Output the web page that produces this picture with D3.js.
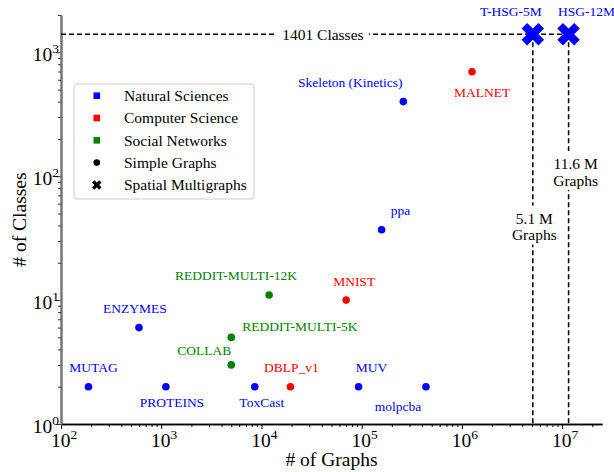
<!DOCTYPE html>
<html>
<head>
<meta charset="utf-8">
<script src="https://cdn.jsdelivr.net/npm/d3@7"></script>
<style>
  body { margin: 0; background: #fff; }
  text { font-family: "Liberation Serif", "Times New Roman", serif; }
</style>
</head>
<body>
<svg id="grafico"></svg>
<script>
// dados
const datasets = ["MUTAG", "PROTEINS", "ENZYMES", "ToxCast", "DBLP_v1", "COLLAB",
  "REDDIT-MULTI-5K", "REDDIT-MULTI-12K", "MNIST", "MUV", "molpcba", "ppa",
  "Skeleton (Kinetics)", "MALNET", "T-HSG-5M", "HSG-12M"];
const numGraphs = [188, 1113, 600, 8576, 19456, 5000, 4999, 11929, 70000, 93087,
  437929, 158100, 260232, 1262024, 5100000, 11600000];
const numClasses = [2, 2, 6, 2, 2, 3, 5, 11, 10, 2, 2, 37, 400, 696, 1401, 1401];
const fieldOf = ["Natural Sciences", "Natural Sciences", "Natural Sciences", "Natural Sciences",
  "Computer Science", "Social Networks", "Social Networks", "Social Networks",
  "Computer Science", "Natural Sciences", "Natural Sciences", "Natural Sciences",
  "Natural Sciences", "Computer Science", "Natural Sciences", "Natural Sciences"];
const typeOf = ["Simple Graphs", "Simple Graphs", "Simple Graphs", "Simple Graphs",
  "Simple Graphs", "Simple Graphs", "Simple Graphs", "Simple Graphs", "Simple Graphs",
  "Simple Graphs", "Simple Graphs", "Simple Graphs", "Simple Graphs", "Simple Graphs",
  "Spatial Multigraphs", "Spatial Multigraphs"];

const fields = ["Natural Sciences", "Computer Science", "Social Networks"];
const graphTypes = ["Simple Graphs", "Spatial Multigraphs"];
const xTicks = [1e2, 1e3, 1e4, 1e5, 1e6, 1e7];
const yTicks = [1e0, 1e1, 1e2, 1e3];
const maxClasses = 1401;
const bigSets = [5100000, 11600000];
const bigLabels = [["5.1 M", "Graphs"], ["11.6 M", "Graphs"]];

// deslocamento dos rotulos (px) em relacao ao ponto
const rotDx = [5, 6, -4, 7, 1, -27, 11, -33, 8, 13, -28, 19, -53, 10, -22, 18];
const rotDy = [-15, 20, -15, 20, -15, -10, -6, -15, -14, -15, 24, -15, -15, 25, -18, -18];
const rotAnchor = ["middle", "middle", "middle", "middle", "middle", "middle", "start",
  "middle", "middle", "middle", "middle", "middle", "middle", "middle", "middle", "middle"];

const cores = d3.scaleOrdinal().domain(fields).range(["#0000ff", "#ff0000", "#008000"]);

const largura = 614, altura = 472;
const esq = 61, dir = 602, topo = 15, base = 424;

let svg = d3.select('#grafico')
  .attr('width', largura + 'px')
  .attr('height', altura + 'px');

let fnX = d3.scaleLog().domain([100, 2.5e7]).range([esq, dir]);
let fnY = d3.scaleLog().domain([1, 2000]).range([base, topo]);

function minors(dom) {
  let out = [];
  for (let e = Math.floor(Math.log10(dom[0])); e <= Math.ceil(Math.log10(dom[1])); e++) {
    for (let k = 2; k <= 9; k++) {
      let v = k * Math.pow(10, e);
      if (v >= dom[0] && v <= dom[1]) out.push(v);
    }
  }
  return out;
}

// eixo x
let gx = svg.append('g').attr('transform', 'translate(0,' + base + ')');
gx.append('g').call(d3.axisBottom(fnX).tickValues(xTicks).tickFormat('').tickSize(5).tickSizeOuter(0));
gx.append('g').call(d3.axisBottom(fnX).tickValues(minors(fnX.domain())).tickFormat('').tickSize(3).tickSizeOuter(0));
gx.selectAll('.domain').attr('stroke', '#000').attr('stroke-width', 1.3);
gx.selectAll('.tick line').attr('stroke', '#000').attr('stroke-width', 1);
gx.selectAll('.rotx').data(xTicks).enter().append('text')
  .attr('x', d => fnX(d) + 3)
  .attr('y', 23)
  .attr('text-anchor', 'middle')
  .attr('font-size', '19.5px')
  .each(function(d) {
    let t = d3.select(this);
    t.append('tspan').text('10');
    t.append('tspan').attr('dy', -8).attr('font-size', '13.5px').text(Math.round(Math.log10(d)));
  });

// eixo y
let gy = svg.append('g').attr('transform', 'translate(' + esq + ',0)');
gy.append('g').call(d3.axisLeft(fnY).tickValues(yTicks).tickFormat('').tickSize(5).tickSizeOuter(0));
gy.append('g').call(d3.axisLeft(fnY).tickValues(minors(fnY.domain())).tickFormat('').tickSize(3).tickSizeOuter(0));
gy.selectAll('.domain').attr('stroke', '#777').attr('stroke-width', 2);
gy.selectAll('.tick line').attr('stroke', '#333').attr('stroke-width', 1);
gy.selectAll('.roty').data(yTicks).enter().append('text')
  .attr('x', -2)
  .attr('y', d => fnY(d) + 9)
  .attr('text-anchor', 'end')
  .attr('font-size', '19.5px')
  .each(function(d) {
    let t = d3.select(this);
    t.append('tspan').text('10');
    t.append('tspan').attr('dy', -8).attr('font-size', '13.5px').text(Math.round(Math.log10(d)));
  });

// titulos dos eixos
svg.append('text')
  .attr('x', (esq + dir) / 2).attr('y', 466)
  .attr('text-anchor', 'middle').attr('font-size', '19.5px')
  .text('# of Graphs');
svg.append('text')
  .attr('transform', 'translate(26,' + ((topo + base) / 2) + ') rotate(-90)')
  .attr('text-anchor', 'middle').attr('font-size', '19.5px')
  .text('# of Classes');

// linhas tracejadas
let linhas = svg.append('g')
  .attr('stroke', '#000').attr('stroke-width', 1.5)
  .attr('stroke-dasharray', '5,3').attr('fill', 'none');
linhas.append('line')
  .attr('x1', fnX(fnX.domain()[0])).attr('x2', fnX(d3.max(bigSets)))
  .attr('y1', fnY(maxClasses)).attr('y2', fnY(maxClasses));
linhas.selectAll('.vert').data(bigSets).enter().append('line')
  .attr('x1', d => fnX(d)).attr('x2', d => fnX(d))
  .attr('y1', fnY(maxClasses)).attr('y2', fnY(1));

// texto "1401 Classes" com fundo branco
let tc = svg.append('g').attr('transform', 'translate(' + fnX(4.1e4) + ',' + fnY(maxClasses) + ')');
tc.append('rect').attr('x', -46).attr('y', -9).attr('width', 92).attr('height', 18).attr('fill', '#fff');
tc.append('text').attr('text-anchor', 'middle').attr('y', 5.5).attr('font-size', '15.5px')
  .text(maxClasses + ' Classes');

// textos das linhas verticais
const bigY = [40, 110];
const bigDx = [1.5, 7];
bigSets.forEach((v, i) => {
  let g = svg.append('g').attr('transform', 'translate(' + (fnX(v) + bigDx[i]) + ',' + fnY(bigY[i]) + ')');
  g.append('rect').attr('x', -24).attr('y', -20).attr('width', 48).attr('height', 39).attr('fill', '#fff');
  g.selectAll('text').data(bigLabels[i]).enter().append('text')
    .attr('text-anchor', 'middle')
    .attr('y', (d, j) => -2 + j * 16.5)
    .attr('font-size', '15.5px')
    .text(d => d);
});

// pontos
const xPath = s => {
  const v = [[-1, -2], [0, -1], [1, -2], [2, -1], [1, 0], [2, 1], [1, 2], [0, 1], [-1, 2], [-2, 1], [-1, 0], [-2, -1]];
  return 'M' + v.map(p => (p[0] * s / 4) + ',' + (p[1] * s / 4)).join('L') + 'Z';
};

let pontos = svg.append('g');
datasets.forEach((nome, i) => {
  let px = fnX(numGraphs[i]), py = fnY(numClasses[i]);
  let cor = cores(fieldOf[i]);
  if (typeOf[i] === 'Simple Graphs') {
    pontos.append('circle').attr('cx', px).attr('cy', py).attr('r', 3.8).attr('fill', cor);
  } else {
    pontos.append('path').attr('d', xPath(22.5))
      .attr('transform', 'translate(' + px + ',' + py + ')').attr('fill', cor);
  }
  pontos.append('text')
    .attr('x', px + rotDx[i]).attr('y', py + rotDy[i])
    .attr('text-anchor', rotAnchor[i])
    .attr('font-size', '13.5px')
    .attr('fill', cor)
    .text(nome);
});

// legenda
let leg = svg.append('g').attr('transform', 'translate(74,84)');
leg.append('rect').attr('width', 180).attr('height', 115).attr('rx', 3)
  .attr('fill', '#fff').attr('fill-opacity', 0.85).attr('stroke', '#ccc');
const legItens = fields.concat(graphTypes);
legItens.forEach((nome, i) => {
  let y = 11.7 + i * 22.3;
  if (i < fields.length) {
    leg.append('rect').attr('x', 19.5).attr('y', y - 3.3).attr('width', 6.6).attr('height', 6.6)
      .attr('fill', cores(nome));
  } else if (nome === 'Simple Graphs') {
    leg.append('circle').attr('cx', 22.8).attr('cy', y).attr('r', 3.3).attr('fill', '#000');
  } else {
    leg.append('path').attr('d', xPath(9.5)).attr('transform', 'translate(22.8,' + y + ')').attr('fill', '#000');
  }
  leg.append('text').attr('x', 50).attr('y', y + 5.3).attr('font-size', '15.5px').text(nome);
});
</script>
</body>
</html>
